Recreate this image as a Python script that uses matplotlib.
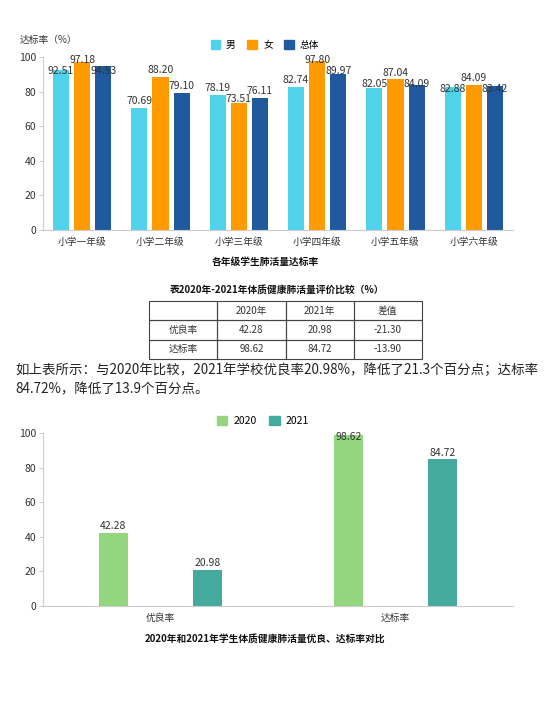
import numpy as np
import matplotlib
matplotlib.use("Agg")
import matplotlib.pyplot as plt
from matplotlib.patches import Patch

plt.rcParams["font.family"] = ["Noto Sans CJK SC", "DejaVu Sans"]

# ---- data ----
grades = ["小学一年级", "小学二年级", "小学三年级", "小学四年级", "小学五年级", "小学六年级"]
boys = [92.51, 70.69, 78.19, 82.74, 82.05, 82.88]
girls = [97.18, 88.20, 73.51, 97.80, 87.04, 84.09]
total = [94.53, 79.10, 76.11, 89.97, 84.09, 83.42]

metrics = ["优良率", "达标率"]
rate_2020 = [42.28, 98.62]
rate_2021 = [20.98, 84.72]

table_header = ["", "2020年", "2021年", "差值"]
table_rows = [
    ["优良率", "42.28", "20.98", "-21.30"],
    ["达标率", "98.62", "84.72", "-13.90"],
]

W, H = 554, 703
C_BOY, C_GIRL, C_TOTAL = "#50d2ea", "#ff9b00", "#1f5a9f"
C_2020, C_2021 = "#93d67e", "#44aa9e"
AXIS_C = "#cccccc"
TXT_C = "#333333"


def fx(px):
    return px / W


def fy(py):
    return 1 - py / H


def style_axes(ax):
    ax.set_ylim(0, 100)
    ax.set_yticks(range(0, 101, 20))
    for s in ("top", "right"):
        ax.spines[s].set_visible(False)
    ax.spines["left"].set_color(AXIS_C)
    ax.spines["bottom"].set_color(AXIS_C)
    ax.tick_params(axis="y", colors=AXIS_C, labelcolor=TXT_C, labelsize=7.5, length=3, pad=2)
    ax.tick_params(axis="x", length=0, labelcolor=TXT_C, labelsize=7, pad=5)
    ax.patch.set_alpha(0)


def label_heights(vals, cap=98.3, off=4.0, gap=6.5):
    # push labels next to a capped one downward, like the original chart does
    ys = [min(v + off, cap) for v in vals]
    top = int(np.argmax(ys))
    for i in range(len(ys)):
        if i != top and abs(i - top) == 1 and ys[top] - ys[i] < gap:
            ys[i] = ys[top] - gap
    return ys


fig = plt.figure(figsize=(W / 100, H / 100), dpi=100)

# ---- top chart ----
ax1 = fig.add_axes([fx(43), fy(230), fx(470), (230 - 57) / H])
style_axes(ax1)
x = np.arange(len(grades))
bw, off = 0.205, 0.27
series = [(boys, C_BOY, "男"), (girls, C_GIRL, "女"), (total, C_TOTAL, "总体")]
for k, (vals, col, name) in enumerate(series):
    ax1.bar(x + (k - 1) * off, vals, width=bw, color=col, label=name, zorder=2)
for i in range(len(grades)):
    vals = [boys[i], girls[i], total[i]]
    for k, yl in enumerate(label_heights(vals)):
        ax1.text(x[i] + (k - 1) * off, yl, f"{vals[k]:.2f}", ha="center", va="center",
                 fontsize=7.5, color=TXT_C, zorder=3)
ax1.set_xlim(-0.5, len(grades) - 0.5)
ax1.set_xticks(x)
ax1.set_xticklabels(grades)
fig.text(fx(20), fy(40), "达标率（%）", fontsize=7, color=TXT_C, ha="left", va="center")
fig.legend(handles=[Patch(color=c, label=n) for _, c, n in series], loc="center",
           bbox_to_anchor=(fx(265), fy(45)), ncol=3, frameon=False, fontsize=7,
           handlelength=1.0, handleheight=1.0, handletextpad=0.6, columnspacing=1.2)
fig.text(fx(265), fy(262), "各年级学生肺活量达标率", fontsize=7, fontweight="bold",
         ha="center", va="center", color="#111111")

# ---- table ----
fig.text(fx(277), fy(290), "表2020年-2021年体质健康肺活量评价比较（%）", fontsize=7,
         fontweight="bold", ha="center", va="center", color="#111111")
axt = fig.add_axes([fx(149), fy(359), fx(422 - 149), (359 - 301) / H])
axt.axis("off")
tbl = axt.table(cellText=[table_header] + table_rows, cellLoc="center", bbox=[0, 0, 1, 1])
tbl.auto_set_font_size(False)
for (r, c), cell in tbl.get_celld().items():
    cell.set_edgecolor("#444444")
    cell.set_linewidth(0.8)
    cell.set_facecolor("none")
    cell.get_text().set_fontsize(7)
    cell.get_text().set_color(TXT_C)

para = ["如上表所示：与2020年比较，2021年学校优良率20.98%，降低了21.3个百分点；达标率",
        "84.72%，降低了13.9个百分点。"]
fig.text(fx(15), fy(370), para[0], fontsize=9.7, color="#222222", ha="left", va="center")
fig.text(fx(15), fy(389), para[1], fontsize=9.7, color="#222222", ha="left", va="center")

# ---- bottom chart ----
ax2 = fig.add_axes([fx(43), fy(606), fx(470), (606 - 433) / H])
style_axes(ax2)
m = np.arange(len(metrics))
bw2, off2 = 0.125, 0.2
ax2.bar(m - off2, rate_2020, width=bw2, color=C_2020, label="2020", zorder=2)
ax2.bar(m + off2, rate_2021, width=bw2, color=C_2021, label="2021", zorder=2)
for i in range(len(metrics)):
    for sgn, v in ((-1, rate_2020[i]), (1, rate_2021[i])):
        ax2.text(m[i] + sgn * off2, min(v + 4.0, 97.8), f"{v:.2f}", ha="center", va="center",
                 fontsize=7.5, color=TXT_C, zorder=3)
ax2.set_xlim(-0.5, len(metrics) - 0.5)
ax2.set_xticks(m)
ax2.set_xticklabels(metrics)
fig.legend(handles=[Patch(color=C_2020, label="2020"), Patch(color=C_2021, label="2021")],
           loc="center", bbox_to_anchor=(fx(263), fy(421)), ncol=2, frameon=False, fontsize=7.5,
           handlelength=1.0, handleheight=1.0, handletextpad=0.6, columnspacing=1.2)
fig.text(fx(265), fy(639), "2020年和2021年学生体质健康肺活量优良、达标率对比", fontsize=7,
         fontweight="bold", ha="center", va="center", color="#111111")

fig.savefig("out.png", dpi=100)
